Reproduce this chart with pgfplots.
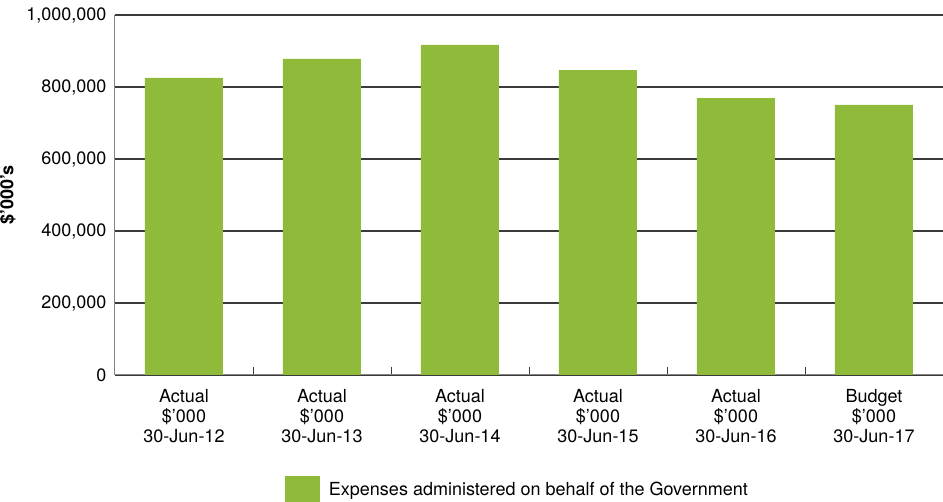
\documentclass[border=0pt]{standalone}
\usepackage{pgfplots}
\pgfplotsset{compat=1.18}
\usepackage{fontspec}
\setmainfont{TeX Gyre Heros}
\definecolor{bargreen}{HTML}{8FBA3A}
\definecolor{gridc}{HTML}{3A3A3A}
\definecolor{axisc}{HTML}{858585}
\begin{document}
\begin{tikzpicture}[font=\fontsize{18pt}{20pt}\selectfont]
\useasboundingbox (-115pt,-127pt) rectangle (828pt,375pt);
\begin{axis}[
  at={(0pt,0pt)}, anchor=south west,
  scale only axis,
  width=828pt, height=360pt,
  xmin=-0.5, xmax=5.5,
  ymin=0, ymax=1000000,
  axis lines*=left,
  axis line style={axisc, line width=1pt},
  x axis line style={-},
  y axis line style={-},
  ytick={0,200000,400000,600000,800000,1000000},
  scaled y ticks=false,
  /pgf/number format/fixed,
  /pgf/number format/1000 sep={,},
  /pgf/number format/assume math mode=true,
  yticklabel style={xshift=-5pt},
  ymajorgrids,
  major grid style={gridc, line width=1.2pt},
  ytick style={draw=none},
  xtick={0,1,2,3,4,5},
  xticklabels={{Actual\\\$’000\\30-Jun-12},{Actual\\\$’000\\30-Jun-13},{Actual\\\$’000\\30-Jun-14},{Actual\\\$’000\\30-Jun-15},{Actual\\\$’000\\30-Jun-16},{Budget\\\$’000\\30-Jun-17}},
  xticklabel style={align=center, yshift=-11pt},
  major x tick style={draw=none},
  minor xtick={0.5,1.5,2.5,3.5,4.5},
  minor x tick style={gridc, line width=0.8pt},
  minor tick length=8pt,
  tick align=inside,
  ylabel={\textbf{\$’000’s}},
  ylabel style={yshift=4pt},
  legend style={at={(0.486,-0.317)}, anchor=center, draw=none, fill=none,
    legend cell align=left, /tikz/every odd column/.append style={column sep=7pt}},
  legend image code/.code={\fill[#1] (0pt,-13.5pt) rectangle (35pt,13.5pt);},
]
\addplot[ybar, bar width=78pt, fill=bargreen, draw=none] coordinates {
  (0,825000) (1,878000) (2,917000) (3,847000) (4,769000) (5,750000)
};
\addlegendentry{Expenses administered on behalf of the Government}
\end{axis}
\end{tikzpicture}
\end{document}
